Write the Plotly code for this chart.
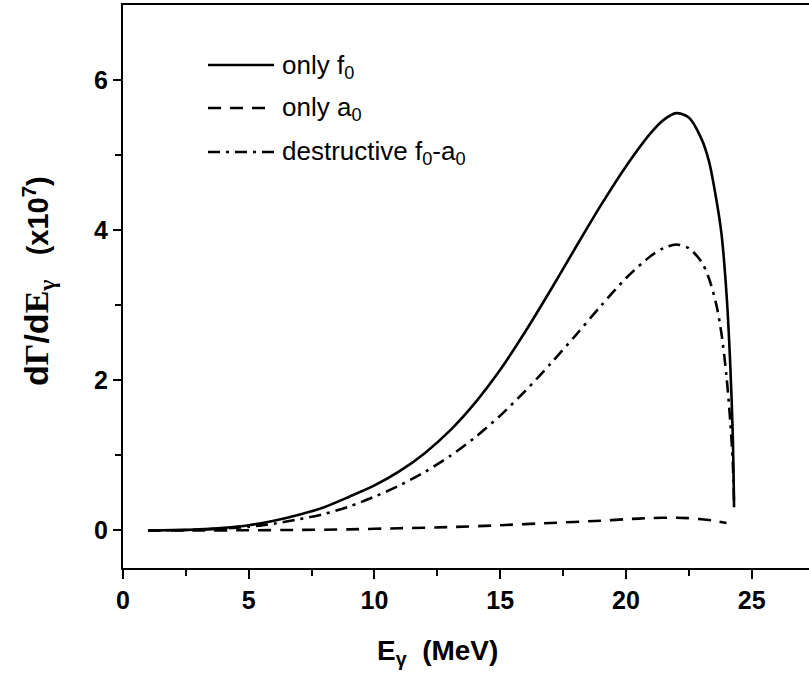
import plotly.graph_objects as go

# ---- data ----
x_f0 = [1, 2, 3, 4, 5, 6, 7, 8, 9, 10, 11, 12, 13, 14, 15, 16, 17, 18, 19, 20,
        21, 21.5, 22, 22.5, 23, 23.3, 23.6, 23.8, 24.0, 24.15, 24.25, 24.3]
y_f0 = [0.0, 0.005, 0.015, 0.035, 0.07, 0.13, 0.21, 0.31, 0.45, 0.6, 0.79, 1.03, 1.33,
        1.7, 2.14, 2.65, 3.2, 3.77, 4.33, 4.85, 5.3, 5.47, 5.56, 5.5, 5.22, 4.92, 4.4,
        3.95, 3.15, 2.2, 1.25, 0.31]

x_a0 = [1, 3, 5, 7, 9, 11, 13, 15, 17, 19, 20, 21, 22, 22.5, 23, 23.5, 24.0]
y_a0 = [0.0, 0.0, 0.003, 0.007, 0.015, 0.03, 0.045, 0.07, 0.1, 0.13, 0.15, 0.165,
        0.17, 0.165, 0.15, 0.13, 0.1]

x_fa = [1, 2, 3, 4, 5, 6, 7, 8, 9, 10, 11, 12, 13, 14, 15, 16, 17, 18, 19, 20,
        21, 21.5, 22, 22.5, 23, 23.3, 23.6, 23.8, 24.0, 24.15, 24.25, 24.3]
y_fa = [0.0, 0.003, 0.01, 0.025, 0.05, 0.09, 0.15, 0.22, 0.32, 0.45, 0.6, 0.78, 0.99,
        1.24, 1.53, 1.86, 2.22, 2.6, 2.99, 3.36, 3.66, 3.76, 3.81, 3.76, 3.58, 3.36,
        3.0, 2.62, 2.05, 1.45, 0.9, 0.35]

legend_labels = ["only f<sub>0</sub>", "only a<sub>0</sub>",
                 "destructive f<sub>0</sub>-a<sub>0</sub>"]
x_ticks = [0, 5, 10, 15, 20, 25]
y_ticks = [0, 2, 4, 6]

W, H = 809, 684
ML, MR, MT, MB = 123, 0, 5, 116
PW, PH = W - ML - MR, H - MT - MB

def px(xp):
    return (xp - ML) / PW

def py(yp):
    return (H - MB - yp) / PH

SANS = "Liberation Sans, Arial, sans-serif"
DASH_A0 = "13px,9px"
DASH_FA = "12px,6px,3px,6px"

fig = go.Figure()
common = dict(color="black", width=2.6, shape="spline", smoothing=0.8)
fig.add_trace(go.Scatter(x=x_f0, y=y_f0, mode="lines", line=dict(**common), showlegend=False))
fig.add_trace(go.Scatter(x=x_a0, y=y_a0, mode="lines", line=dict(dash=DASH_A0, **common), showlegend=False))
fig.add_trace(go.Scatter(x=x_fa, y=y_fa, mode="lines", line=dict(dash=DASH_FA, **common), showlegend=False))

# manual legend
leg_y = [65, 108, 152]
dashes = ["solid", DASH_A0, DASH_FA]
shapes = []
annotations = []
for lab, yy, d in zip(legend_labels, leg_y, dashes):
    shapes.append(dict(type="line", xref="paper", yref="paper", x0=px(208), x1=px(274),
                       y0=py(yy), y1=py(yy), line=dict(color="black", width=2.4, dash=d)))
    annotations.append(dict(xref="paper", yref="paper", x=px(280), y=py(yy + 1), text=lab,
                            showarrow=False, xanchor="left", yanchor="middle",
                            font=dict(family=SANS, size=26, color="black")))

# axis titles
annotations.append(dict(xref="paper", yref="paper", x=px(437), y=py(652),
                        text="<b>E<sub>γ</sub>  (MeV)</b>", showarrow=False,
                        xanchor="center", yanchor="middle",
                        font=dict(family=SANS, size=28, color="black")))
annotations.append(dict(xref="paper", yref="paper", x=px(38), y=py(281),
                        text=("<b><span style='font-size:34px'>d<span style='font-family:Liberation Serif'>Γ</span>/d"
                              "<span style='font-family:Liberation Serif'>E<sub>γ</sub></span></span>"
                              "   (x10<sup>7</sup>)</b>"),
                        showarrow=False, textangle=-90, xanchor="center", yanchor="middle",
                        font=dict(family=SANS, size=29, color="black")))

fig.update_layout(
    width=W, height=H,
    margin=dict(l=ML, r=MR, t=MT, b=MB),
    plot_bgcolor="white", paper_bgcolor="white",
    shapes=shapes, annotations=annotations,
    font=dict(family=SANS, color="black"),
)
fig.update_xaxes(range=[0, 27.28], tickvals=x_ticks, ticktext=[f"<b>{v}</b>" for v in x_ticks],
                 ticks="outside", ticklen=9, tickwidth=2, tickcolor="black",
                 showline=True, linewidth=2, linecolor="black", mirror=True,
                 showgrid=False, zeroline=False,
                 tickfont=dict(family=SANS, size=25, color="black"),
                 minor=dict(tickvals=[2.5, 7.5, 12.5, 17.5, 22.5], ticks="outside", ticklen=6, tickwidth=2, tickcolor="black"))
fig.update_yaxes(range=[-0.5, 7.0], tickvals=y_ticks, ticktext=[f"<b>{v}</b>" for v in y_ticks],
                 ticks="outside", ticklen=8, tickwidth=2, tickcolor="black",
                 showline=True, linewidth=2, linecolor="black", mirror=False,
                 showgrid=False, zeroline=False,
                 tickfont=dict(family=SANS, size=25, color="black"),
                 minor=dict(tickvals=[1, 3, 5], ticks="outside", ticklen=6, tickwidth=2, tickcolor="black"))

fig.write_html("out.html", config={"displayModeBar": False},
               post_script="document.body.style.margin='0';document.body.style.overflow='hidden';")
